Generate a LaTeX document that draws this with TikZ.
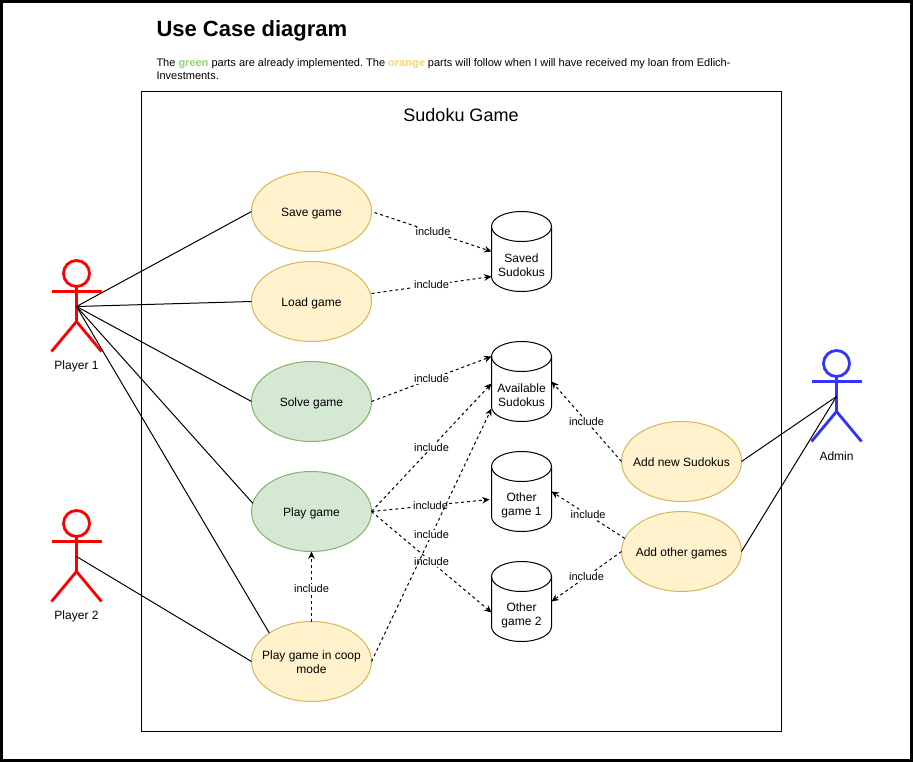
\documentclass[tikz,border=0pt]{standalone}
\usepackage{fontspec}
\setmainfont{Liberation Sans}
\usepackage{xcolor}
\usetikzlibrary{shapes.geometric,arrows.meta,positioning,calc}
\definecolor{todofill}{HTML}{FFF2CC}
\definecolor{tododraw}{HTML}{D6B656}
\definecolor{donefill}{HTML}{D5E8D4}
\definecolor{donedraw}{HTML}{82B366}
\frenchspacing
\begin{document}
\begin{tikzpicture}[x=0.75pt, y=-0.75pt, node distance=7.5pt, line width=0.75pt, font=\fontsize{8.25pt}{10.5pt}\selectfont]
    % Styles
    \tikzstyle{big}=[font=\fontsize{9pt}{10.5pt}\selectfont]
    \tikzstyle{usecase}=[big, ellipse, minimum width=90pt, minimum height=60pt, inner sep=-16pt, outer sep=0pt, text height=7.5pt, text depth=0pt, draw=tododraw, fill=todofill]
    \tikzstyle{done}=[draw=donedraw, fill=donefill]
    \tikzstyle{store}=[rectangle, minimum width=45pt, minimum height=60pt, inner sep=0pt, outer sep=0pt]
    \tikzstyle{storetext}=[big, align=center, yshift=-10.1pt]
    \tikzstyle{link}=[-]
    \tikzstyle{inc}=[-{Stealth[length=5.5pt,width=5pt]}, dash pattern=on 2.25pt off 2.25pt]
    \tikzstyle{lab}=[fill=white, inner sep=0.5pt, midway]
    \tikzstyle{stick}=[line width=2.1pt]

    \useasboundingbox (0,0) rectangle (913,762);
    \draw[line width=4pt] (0,0) rectangle (913,762);

    % Title
    \node (title) [anchor=west, inner sep=0pt, font=\bfseries\fontsize{16.5pt}{20pt}\selectfont] at (156,31) {Use Case diagram};
    \node (intro) [anchor=north west, inner sep=0pt, align=left, font=\fontsize{8.25pt}{9.75pt}\selectfont] at (156,58) {The \textbf{\textcolor[HTML]{97D077}{green}} parts are already implemented. The \textbf{\textcolor[HTML]{FFD966}{orange}} parts will follow when I will have received my loan from Edlich-\\Investments.};

    % System box
    \node (system) [rectangle, draw=black, fill=white, minimum width=480pt, minimum height=479.5pt, inner sep=0pt] at (461,411.5) {};
    \node (systemname) [font=\fontsize{13.5pt}{16pt}\selectfont] at (461,115.5) {Sudoku Game};

    % Actors
    \foreach \name/\cx/\cy/\col/\txt in {player1/76.5/306.5/red/Player 1, player2/76.5/556.5/red/Player 2, admin/836.5/396.5/{blue!80!white}/Admin} {
        \coordinate (\name) at (\cx,\cy);
        \draw[stick, draw=\col] ($(\name)+(0,-33)$) circle (9.75pt);
        \draw[stick, draw=\col] ($(\name)+(0,-20)$) -- ($(\name)+(0,15)$) -- ($(\name)+(-25,45)$);
        \draw[stick, draw=\col] ($(\name)+(0,15)$) -- ($(\name)+(25,45)$);
        \draw[stick, draw=\col] ($(\name)+(-25,-15)$) -- ($(\name)+(25,-15)$);
        \node (\name label) [big] at ($(\name)+(0,59.5)$) {\txt};
    }

    % Use cases
    \node (save) [usecase] at (311.5,211.5) {Save game};
    \node (load) [usecase, below=of save] {Load game};
    \node (solve) [usecase, done, below=15pt of load] {Solve game};
    \node (play) [usecase, done, below=22.5pt of solve] {Play game};
    \node (coop) [usecase, align=center, text height=17.25pt, below=52.5pt of play] {Play game in coop\\mode};
    \node (addnew) [usecase] at (681.5,461.5) {Add new Sudokus};
    \node (addother) [usecase, below=of addnew] {Add other games};

    % Stores
    \foreach \store/\cx/\cy/\txt in {saved/521.5/251.5/{Saved\\Sudokus}, avail/521.5/381.5/{Available\\Sudokus}, other1/521.5/491.5/{Other\\game 1}, other2/521.5/601.5/{Other\\game 2}} {
        \draw[fill=white] ($(\cx,\cy)+(-30,-25)$) arc[start angle=180, end angle=0, x radius=22.5pt, y radius=11.25pt]
            -- ($(\cx,\cy)+(30,25)$) arc[start angle=0, end angle=-180, x radius=22.5pt, y radius=11.25pt] -- cycle;
        \draw ($(\cx,\cy)+(-30,-25)$) arc[start angle=180, end angle=360, x radius=22.5pt, y radius=11.25pt];
        \node (\store) [store, label={[storetext]center:\txt}] at (\cx,\cy) {};
    }

    % Actor links
    \draw [link] (player1) -- (save.west);
    \draw [link] (player1) -- (load.west);
    \draw [link] (player1) -- (solve.west);
    \draw [link] (player1) -- (play.172);
    \draw [link] (player1) -- (coop.146);
    \draw [link] (player2) -- (coop.west);
    \draw [link] (admin) -- (addnew.east);
    \draw [link] (admin) -- (addother.east);

    % Includes
    \draw [inc] ($(save.east)+(3,1)$) -- node[lab] {include} (saved.west);
    \draw [inc] ($(load.east)+(0,-8)$) -- node[lab] {include} ($(saved.west)+(0,25)$);
    \draw [inc] (solve.east) -- node[lab] {include} ($(avail.west)+(0,-25)$);
    \draw [inc] (play.east) -- node[lab] {include} ($(avail.west)+(0,2)$);
    \draw [inc] (play.east) -- node[lab] {include} ($(other1.west)+(-2,8)$);
    \draw [inc] (play.east) -- node[lab] {include} ($(other2.west)+(0,11)$);
    \draw [inc] (coop.east) -- node[lab] {include} ($(avail.west)+(0,27)$);
    \draw [inc] (coop.north) -- node[lab, pos=0.47] {include} (play.south);
    \draw [inc] (addnew.west) -- node[lab] {include} (avail.east);
    \draw [inc] (addother.167) -- node[lab] {include} (other1.east);
    \draw [inc] (addother.west) -- node[lab] {include} (other2.east);
\end{tikzpicture}
\end{document}
